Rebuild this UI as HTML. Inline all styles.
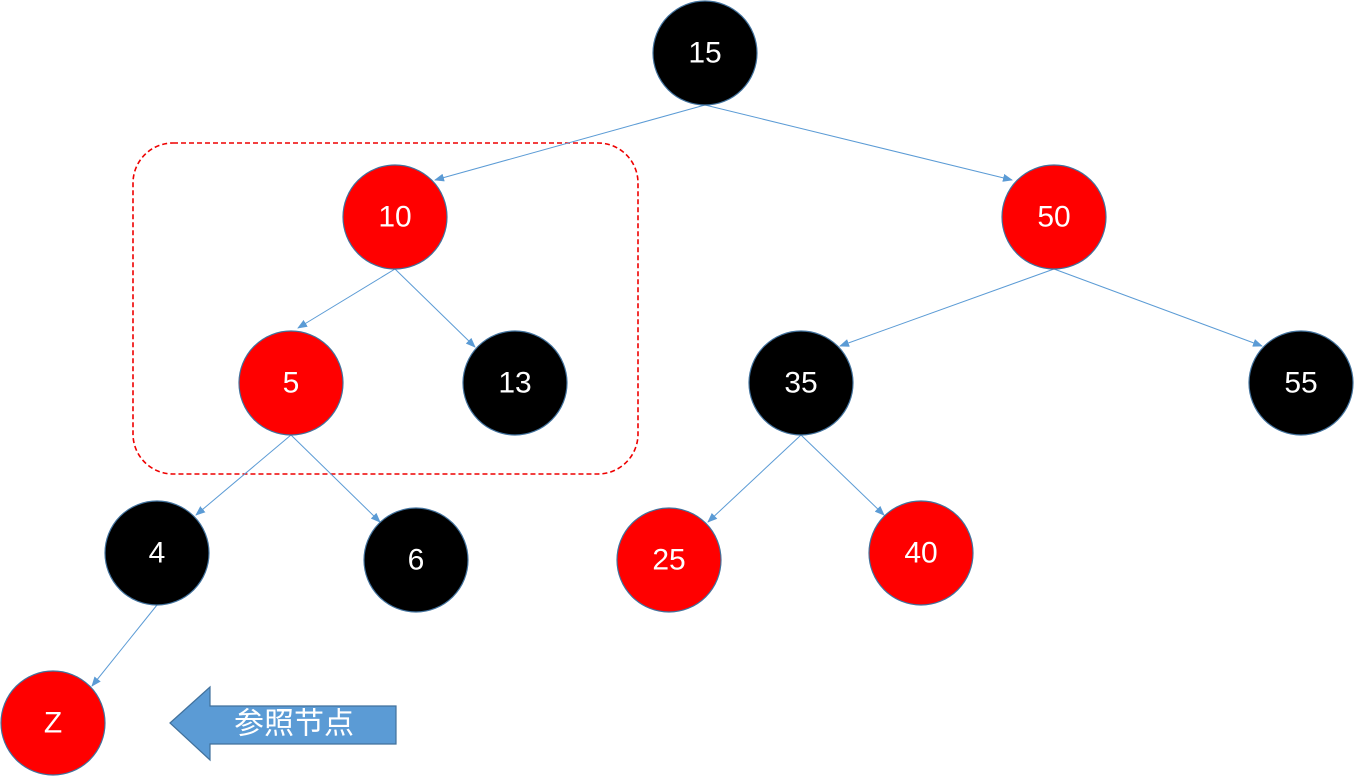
<!DOCTYPE html>
<html><head><meta charset="utf-8"><style>
html,body{margin:0;padding:0;background:#fff;width:1354px;height:776px;overflow:hidden}
svg{display:block}
text{font-family:"Liberation Sans","Noto Sans CJK SC",sans-serif;fill:#fff;text-anchor:middle;dominant-baseline:central}
</style></head><body>
<svg width="1354" height="776" viewBox="0 0 1354 776" xmlns="http://www.w3.org/2000/svg">
<defs>
<marker id="a" markerWidth="10" markerHeight="8" refX="9" refY="4" orient="auto" markerUnits="userSpaceOnUse">
<path d="M0,0 L10,4 L0,8 z" fill="#5b9bd5"/>
</marker>
</defs>
<rect x="133" y="143" width="505" height="331" rx="40" ry="40" fill="none" stroke="#e00" stroke-width="1.6" stroke-dasharray="5,3"/>
<g stroke="#5b9bd5" stroke-width="1" marker-end="url(#a)">
<line x1="705" y1="105" x2="435" y2="180"/>
<line x1="705" y1="105" x2="1012" y2="180"/>
<line x1="395" y1="269" x2="298" y2="328"/>
<line x1="395" y1="269" x2="475" y2="347"/>
<line x1="1054" y1="269" x2="840" y2="346"/>
<line x1="1054" y1="269" x2="1262" y2="346"/>
<line x1="291" y1="435" x2="196" y2="515"/>
<line x1="291" y1="435" x2="380" y2="522"/>
<line x1="801" y1="435" x2="708" y2="522"/>
<line x1="801" y1="435" x2="884" y2="515"/>
<line x1="157" y1="605" x2="92" y2="686"/>
</g>
<g stroke="#41719c" stroke-width="1.2" font-size="30">
<circle cx="705" cy="53" r="52" fill="#000"/>
<circle cx="395" cy="217" r="52" fill="#f00"/>
<circle cx="1054" cy="217" r="52" fill="#f00"/>
<circle cx="291" cy="383" r="52" fill="#f00"/>
<circle cx="515" cy="383" r="52" fill="#000"/>
<circle cx="801" cy="383" r="52" fill="#000"/>
<circle cx="1301" cy="383" r="52" fill="#000"/>
<circle cx="157" cy="553" r="52" fill="#000"/>
<circle cx="416" cy="560" r="52" fill="#000"/>
<circle cx="669" cy="560" r="52" fill="#f00"/>
<circle cx="921" cy="553" r="52" fill="#f00"/>
<circle cx="53" cy="723" r="52" fill="#f00"/>
</g>
<g font-size="30">
<text x="705" y="53">15</text>
<text x="395" y="217">10</text>
<text x="1054" y="217">50</text>
<text x="291" y="383">5</text>
<text x="515" y="383">13</text>
<text x="801" y="383">35</text>
<text x="1301" y="383">55</text>
<text x="157" y="553">4</text>
<text x="416" y="560">6</text>
<text x="669" y="560">25</text>
<text x="921" y="553">40</text>
<text x="53" y="723">Z</text>
</g>
<path d="M170,723 L210,687 L210,706 L396,706 L396,744 L210,744 L210,760 Z" fill="#5b9bd5" stroke="#41719c" stroke-width="1.2"/>
<text x="294" y="724" font-size="30">参照节点</text>
</svg>
</body></html>
